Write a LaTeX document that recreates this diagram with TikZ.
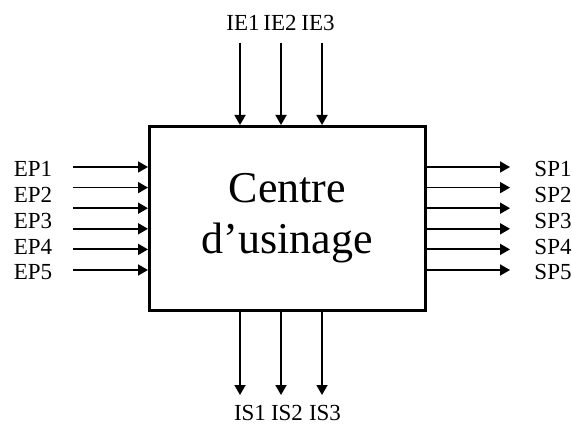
\documentclass[tikz,border=0pt]{standalone}
\usepackage{fontspec}
\setmainfont{Liberation Serif}
\usetikzlibrary{arrows.meta}

\begin{document}
\begin{tikzpicture}[
  x=1pt, y=-1pt,
  flow/.style={line width=1.8pt, -{Triangle[length=10pt, width=11pt]}},
  bloc/.style={draw, line width=3pt, minimum width=276pt, minimum height=184pt,
    align=center, font=\fontsize{44}{51}\selectfont},
  every node/.style={inner sep=0pt},
  lbl/.style={font=\fontsize{23}{27}\selectfont, text height=15pt, text depth=0pt}
]
  \useasboundingbox (0,0) rectangle (572,427);
  \node[bloc] (centre) at (287.5,218.5) {Centre\\d'usinage};

  \foreach \i/\y in {1/167,2/187.6,3/208.2,4/228.8,5/249.4,6/270} {
    \coordinate (ein\i) at (73,\y);
    \coordinate (sor\i) at (510,\y);
    \draw[flow] (ein\i) -- (ein\i -| centre.west);
    \draw[flow] (sor\i -| centre.east) -- (sor\i);
  }
  \foreach \i/\y in {1/169,2/195,3/221,4/247,5/272} {
    \node[lbl] (ep\i) at (33,\y) {EP\i};
    \node[lbl] (sp\i) at (553,\y) {SP\i};
  }

  \foreach \i/\x in {1/240,2/281,3/322} {
    \coordinate (ie\i) at (\x,42.7);
    \coordinate (is\i) at (\x,395);
    \draw[flow] (ie\i) -- (ie\i |- centre.north);
    \draw[flow] (is\i |- centre.south) -- (is\i);
  }
  \foreach \i/\x/\z in {1/243/250,2/280/287,3/318/325} {
    \node[lbl] (ie\i lbl) at (\x,23.5) {IE\i};
    \node[lbl] (is\i lbl) at (\z,413) {IS\i};
  }
\end{tikzpicture}
\end{document}
